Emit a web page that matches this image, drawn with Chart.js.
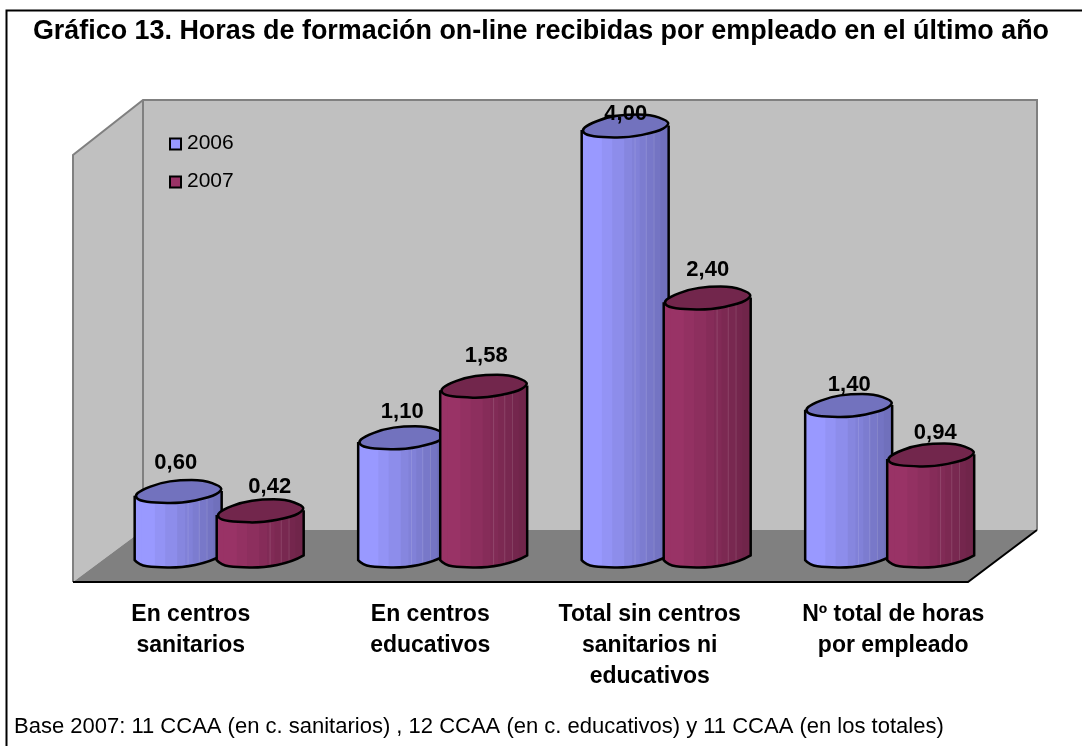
<!DOCTYPE html>
<html>
<head>
<meta charset="utf-8">
<style>html,body{margin:0;padding:0;background:#fff}canvas{display:block}</style>
<script src="https://cdn.jsdelivr.net/npm/chart.js@4"></script>
</head>
<body>
<canvas id="c" width="1082" height="746"></canvas>
<script>
const categories = [
  ['En centros','sanitarios'],
  ['En centros','educativos'],
  ['Total sin centros','sanitarios ni','educativos'],
  ['Nº total de horas','por empleado']
];
const seriesNames = ['2006','2007'];
const values2006 = [0.60, 1.10, 4.00, 1.40];
const values2007 = [0.42, 1.58, 2.40, 0.94];
const colors2006 = ['#9999FF','#7272BE','#7070BC'];
const colors2007 = ['#993366','#72264C','#70254A'];
const titleText = 'Gráfico 13. Horas de formación on-line recibidas por empleado en el último año';
const footText = 'Base 2007: 11 CCAA (en c. sanitarios) , 12 CCAA (en c. educativos) y 11 CCAA (en los totales)';
const FONT = '"Liberation Sans", Arial, sans-serif';
// nudges of category labels and value labels away from their default positions
const labelShift = [-28,-12,-16,4];
const nudge2006 = [[-2,-29],[1,-26],[1,-12],[1,-21]];
const nudge2007 = [[10,-24],[3,-30],[1,-28],[5,-22]];
// normalised outline of the faceted cylinder cap
const cap = [[-1,.36],[-.86,-.1],[-.41,-.76],[.05,-1],[.6,-1],[1,-.45],[1.02,-.05],[.76,.52],[.05,1.03],[-.53,.97],[-.9,.8]];

function hex(c){return [1,3,5].map(i=>parseInt(c.substr(i,2),16));}
function mix(a,b,t){const A=hex(a),B=hex(b);return 'rgb('+A.map((v,i)=>Math.round(v+(B[i]-v)*t)).join(',')+')';}

// smoothed path through a list of points (corners rounded via midpoints)
function smooth(ctx,pts,closed){
  const mid=(a,b)=>[(a[0]+b[0])/2,(a[1]+b[1])/2];
  if(closed){
    let m=mid(pts[pts.length-1],pts[0]);ctx.moveTo(m[0],m[1]);
    pts.forEach((p,i)=>{const n=pts[(i+1)%pts.length];m=mid(p,n);ctx.quadraticCurveTo(p[0],p[1],m[0],m[1]);});
  }else{
    for(let i=1;i<pts.length-1;i++){const m=i<pts.length-2?mid(pts[i],pts[i+1]):pts[i+1];ctx.quadraticCurveTo(pts[i][0],pts[i][1],m[0],m[1]);}
  }
}

function drawCylinder(ctx,x,y,base,w,cols){
  const a=w/2,b=11.5;
  const P=(p,cy)=>[x+p[0]*a,cy+p[1]*b];
  const low=[6,7,8,9,10,0].map(i=>P(cap[i],base));
  // body
  ctx.beginPath();
  let s=P(cap[0],y);ctx.moveTo(s[0],s[1]);
  s=P(cap[6],y);ctx.lineTo(s[0],s[1]);
  ctx.lineTo(low[0][0],low[0][1]);
  smooth(ctx,low,false);
  ctx.closePath();
  ctx.save();ctx.clip();
  const bands=[0,.09,.24,.36,.5,.59,.68,.76,.84,.92,1];
  for(let i=0;i<bands.length-1;i++){
    const t=Math.max(0,(bands[i]-.12)/.8);
    ctx.fillStyle=mix(cols[0],cols[2],Math.min(1,t));
    ctx.fillRect(x-a+bands[i]*w-.5,y-b*2,(bands[i+1]-bands[i])*w+1,base-y+b*4);
  }
  ctx.strokeStyle='rgba(255,255,255,.13)';ctx.lineWidth=1;
  [.62,.75,.84].forEach(f=>{ctx.beginPath();ctx.moveTo(x-a+f*w,y);ctx.lineTo(x-a+f*w,base+b);ctx.stroke();});
  ctx.restore();
  // outline of body
  ctx.strokeStyle='#000';ctx.lineWidth=2.5;ctx.lineJoin='round';
  ctx.beginPath();
  s=P(cap[6],y);ctx.moveTo(s[0],s[1]);
  ctx.lineTo(low[0][0],low[0][1]);
  smooth(ctx,low,false);
  s=P(cap[0],y);ctx.lineTo(s[0],s[1]);
  ctx.stroke();
  // cap
  ctx.beginPath();
  smooth(ctx,cap.map(p=>P(p,y)),true);
  ctx.closePath();ctx.fillStyle=cols[1];ctx.fill();ctx.stroke();
}

const scene = {
  id:'scene',
  afterLayout(chart){
    const sub=chart.boxes.find(b=>b.options&&b.options.text===footText);
    if(sub)sub.left=14;
    const xs=chart.scales.x;
    xs.getLabelItems(chart.chartArea).forEach((it,i)=>{
      it.options.translation[0]=xs.getPixelForTick(i)+labelShift[i];
    });
  },
  beforeDatasetsDraw(chart){
    const c=chart.ctx,A=chart.chartArea;
    // offsets of the 3D box relative to the plot area
    const bx0=A.left+36,bx1=A.right+36,by0=A.top-26,by1=A.bottom-26;
    const fx0=A.left-34,fx1=A.right-33,fy=A.bottom+26,wy=A.top+29;
    c.save();
    // frame
    c.strokeStyle='#000';c.lineWidth=2;
    c.beginPath();c.moveTo(6.5,746);c.lineTo(6.5,10.5);c.lineTo(1082,10.5);c.stroke();
    // walls
    c.fillStyle='#C0C0C0';
    c.beginPath();c.moveTo(fx0,wy);c.lineTo(bx0,by0);c.lineTo(bx1,by0);c.lineTo(bx1,by1);c.lineTo(bx0,by1);c.lineTo(fx0,fy);c.closePath();c.fill();
    c.strokeStyle='#808080';c.lineWidth=2;
    c.beginPath();c.moveTo(fx0,fy);c.lineTo(fx0,wy);c.lineTo(bx0,by0);c.lineTo(bx1,by0);c.lineTo(bx1,by1);c.moveTo(bx0,by0);c.lineTo(bx0,by1);c.stroke();
    // floor
    c.fillStyle='#808080';
    c.beginPath();c.moveTo(fx0,fy);c.lineTo(bx0,by1);c.lineTo(bx1,by1);c.lineTo(fx1,fy);c.closePath();c.fill();
    c.strokeStyle='#000';
    c.beginPath();c.moveTo(fx0,fy);c.lineTo(fx1,fy);c.lineTo(bx1,by1);c.stroke();
    // legend
    seriesNames.forEach((n,i)=>{
      const top=138.5+i*38;
      c.fillStyle=(i?colors2007:colors2006)[0];c.strokeStyle='#000';c.lineWidth=2;
      c.fillRect(170,top,11,11);c.strokeRect(170,top,11,11);
      c.fillStyle='#000';c.font='21px '+FONT;c.textAlign='left';c.textBaseline='middle';
      c.fillText(n,187,top+5);
    });
    c.restore();
  },
  beforeDatasetDraw(){return false;},
  afterDatasetsDraw(chart){
    const c=chart.ctx;
    c.save();
    categories.forEach((_,j)=>{
      [colors2006,colors2007].forEach((cols,i)=>{
        const el=chart.getDatasetMeta(i).data[j];
        drawCylinder(c,el.x,el.y,el.base,el.width,cols);
      });
    });
    c.fillStyle='#000';c.font='bold 22px '+FONT;c.textAlign='center';c.textBaseline='middle';
    [[values2006,nudge2006],[values2007,nudge2007]].forEach(([vals,n],i)=>{
      vals.forEach((v,j)=>{
        const el=chart.getDatasetMeta(i).data[j];
        c.fillText(v.toFixed(2).replace('.',','),el.x+n[j][0],el.y+n[j][1]);
      });
    });
    c.restore();
  }
};

new Chart(document.getElementById('c'),{
  type:'bar',
  data:{labels:categories,datasets:[
    {label:seriesNames[0],data:values2006,backgroundColor:colors2006[0],borderColor:'#000'},
    {label:seriesNames[1],data:values2007,backgroundColor:colors2007[0],borderColor:'#000'}
  ]},
  options:{
    responsive:false,animation:false,
    layout:{padding:0},
    categoryPercentage:.734,barPercentage:1.05,
    plugins:{
      legend:{display:false},tooltip:{enabled:false},
      title:{display:true,text:titleText,color:'#000',align:'center',
        font:{family:FONT,size:26.9,weight:'bold',lineHeight:1.2},padding:{top:15,bottom:78.7}},
      subtitle:{display:true,text:footText,color:'#000',position:'bottom',align:'start',
        font:{family:FONT,size:22,weight:'normal',lineHeight:1.2},padding:{top:0,bottom:6}}
    },
    scales:{
      x:{grid:{display:false,drawTicks:false},border:{display:false},
        ticks:{color:'#000',padding:43,maxRotation:0,autoSkip:false,
          font:{family:FONT,size:23,weight:'bold',lineHeight:1.35}},
        afterFit(s){s.height=157.6;}},
      y:{min:0,max:4,grid:{display:false,drawTicks:false},border:{display:false},
        ticks:{display:false},afterFit(s){s.width=107;}},
      y2:{position:'right',grid:{display:false,drawTicks:false},border:{display:false},
        ticks:{display:false},afterFit(s){s.width=81;}}
    }
  },
  plugins:[scene]
});
</script>
</body>
</html>
